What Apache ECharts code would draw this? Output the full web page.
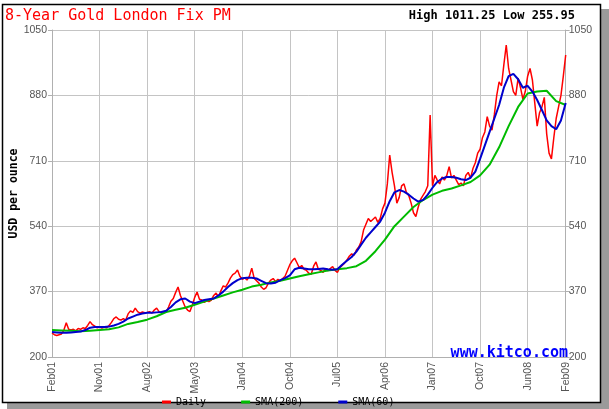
<!DOCTYPE html>
<html><head><meta charset="utf-8">
<script src="https://cdn.jsdelivr.net/npm/echarts@6/dist/echarts.min.js"></script>
<style>html,body{margin:0;padding:0;background:#fff}#c{width:609px;height:409px}</style>
</head><body><div id="c"></div>
<script>
const tickIndices = [0,20,40,60,80,100,120,140,160,180,200,216];
const tickLabels = ['Feb01','Nov01','Aug02','May03','Jan04','Oct04','Jul05','Apr06','Jan07','Oct07','Jun08','Feb09'];
const yTicks = [200,370,540,710,880,1050];

// Daily fix, one value per index 0..216
const daily = [
262,258,256,258,260,270,289,272,270,272,
268,274,272,276,274,282,292,284,280,276,
278,275,278,276,282,290,300,304,298,296,
300,296,312,320,316,327,318,314,317,315,
316,318,314,322,327,318,316,318,316,330,
345,352,368,382,360,345,330,322,318,335,
355,369,350,348,342,346,344,348,360,366,
356,372,385,382,392,405,414,418,426,410,
402,406,400,410,431,405,398,392,382,376,
380,392,400,404,396,402,398,404,410,425,
440,450,457,445,432,438,428,425,418,415,
436,447,428,425,420,430,424,430,435,425,
420,432,438,444,452,462,468,465,478,486,
500,530,545,560,552,558,564,550,560,585,
600,650,725,680,645,600,615,645,650,628,
620,600,575,565,590,610,620,630,645,829,
645,672,660,650,668,660,672,695,665,672,
660,648,652,645,672,680,665,690,705,730,
740,770,785,825,800,790,830,880,915,905,
960,1011,950,920,890,880,925,900,870,890,
930,950,920,860,800,835,850,875,780,730,
715,770,820,850,880,930,985
];
// SMA(60), one value every 2 indices
const sma60 = [
265,264,263,263,264,265,266,270,276,278,
278,278,279,282,286,292,300,305,310,313,
315,315,316,317,320,330,342,350,352,344,
340,344,348,350,352,360,370,382,392,400,
405,406,406,404,398,392,391,393,400,405,
412,428,432,430,428,428,429,430,428,427,
428,440,450,460,474,492,510,524,538,552,
575,605,628,634,630,622,612,604,608,622,
640,655,664,668,668,666,662,660,666,682,
715,750,785,820,855,900,930,936,922,900,
905,890,868,842,815,800,792,815,860
];
// SMA(200), one value every 4 indices
const sma200 = [
270,269,268,267,268,270,272,277,286,291,
297,306,317,323,328,336,344,352,360,368,
375,383,388,394,398,404,410,415,420,425,
428,431,436,450,475,505,540,565,590,608,
622,632,638,646,655,672,700,745,800,850,
885,890,892,865,855
];

const dailyData = daily.map((v,i)=>[i,v]);
const sma60Data = sma60.map((v,i)=>[i*2,v]);
const sma200Data = sma200.map((v,i)=>[i*4,v]);

const axisFont = 'Liberation Sans';
const mono = 'DejaVu Sans Mono';
const chart = echarts.init(document.getElementById('c'), null, {renderer:'canvas'});
chart.setOption({
  animation:false,
  backgroundColor:'transparent',
  grid:{left:52, right:43.3, top:30, bottom:52, containLabel:false, outerBoundsMode:'none'},
  graphic:{elements:[
    {type:'rect', z:-100, silent:true, shape:{x:7,y:9,width:602,height:400}, style:{fill:'#9a9a9a'}},
    {type:'rect', z:-99, silent:true, shape:{x:2.5,y:4.5,width:598,height:398}, style:{fill:'#fff', stroke:'#000', lineWidth:1.5}},
    {type:'text', z:10, silent:true, x:5, y:16.5, style:{text:'8-Year Gold London Fix PM', fill:'#ff0000', font:'normal 15px "DejaVu Sans Mono"', align:'left', verticalAlign:'middle'}},
    {type:'text', z:10, silent:true, x:575, y:16, style:{text:'High 1011.25 Low 255.95', fill:'#000', font:'bold 12px "DejaVu Sans Mono"', align:'right', verticalAlign:'middle'}},
    {type:'text', z:10, silent:true, x:568, y:361, style:{text:'www.kitco.com', fill:'#0000ff', font:'bold 15px "DejaVu Sans Mono"', align:'right', verticalAlign:'bottom'}}
  ]},
  legend:{
    data:['Daily','SMA(200)','SMA(60)'],
    left:157, top:392, icon:'rect', itemWidth:9, itemHeight:3, itemGap:35,
    textStyle:{fontFamily:mono, fontSize:10, color:'#000'}
  },
  xAxis:{
    type:'value', min:0, max:216, interval:20,
    axisLine:{lineStyle:{color:'#b0b0b0'}},
    axisTick:{show:false},
    splitLine:{show:true, lineStyle:{color:'#c4c4c4', width:1}},
    axisLabel:{rotate:90, margin:5, fontFamily:axisFont, fontSize:10.5, color:'#555',
      showMaxLabel:true,
      formatter:function(v){ const k = tickIndices.indexOf(Math.round(v)); return k>=0 ? tickLabels[k] : ''; }}
  },
  yAxis:[
    {type:'value', min:yTicks[0], max:yTicks[yTicks.length-1], interval:170, position:'left',
     name:'USD per ounce', nameLocation:'middle', nameGap:32, nameRotate:90, nameMoveOverlap:false,
     nameTextStyle:{fontFamily:mono, fontWeight:'bold', fontSize:11.5, color:'#000'},
     axisLine:{show:true, lineStyle:{color:'#b0b0b0'}},
     axisTick:{show:true, length:4, lineStyle:{color:'#b0b0b0'}},
     splitLine:{show:true, lineStyle:{color:'#c4c4c4'}},
     axisLabel:{margin:5, fontFamily:axisFont, fontSize:10.5, color:'#555', formatter:function(v){return String(v);}}},
    {type:'value', min:yTicks[0], max:yTicks[yTicks.length-1], interval:170, position:'right',
     axisLine:{show:true, lineStyle:{color:'#b0b0b0'}},
     axisTick:{show:true, length:4, lineStyle:{color:'#b0b0b0'}},
     splitLine:{show:false},
     axisLabel:{margin:3, fontFamily:axisFont, fontSize:10.5, color:'#555', formatter:function(v){return String(v);}}}
  ],
  series:[
    {name:'Daily', type:'line', data:dailyData, showSymbol:false, symbol:'none', color:'#ff0000', lineStyle:{width:1.5, color:'#ff0000'}, z:2},
    {name:'SMA(200)', type:'line', data:sma200Data, showSymbol:false, symbol:'none', color:'#00bb00', lineStyle:{width:2, color:'#00bb00'}, z:3},
    {name:'SMA(60)', type:'line', data:sma60Data, showSymbol:false, symbol:'none', color:'#0000cc', lineStyle:{width:2, color:'#0000cc'}, z:4}
  ]
});
</script></body></html>
